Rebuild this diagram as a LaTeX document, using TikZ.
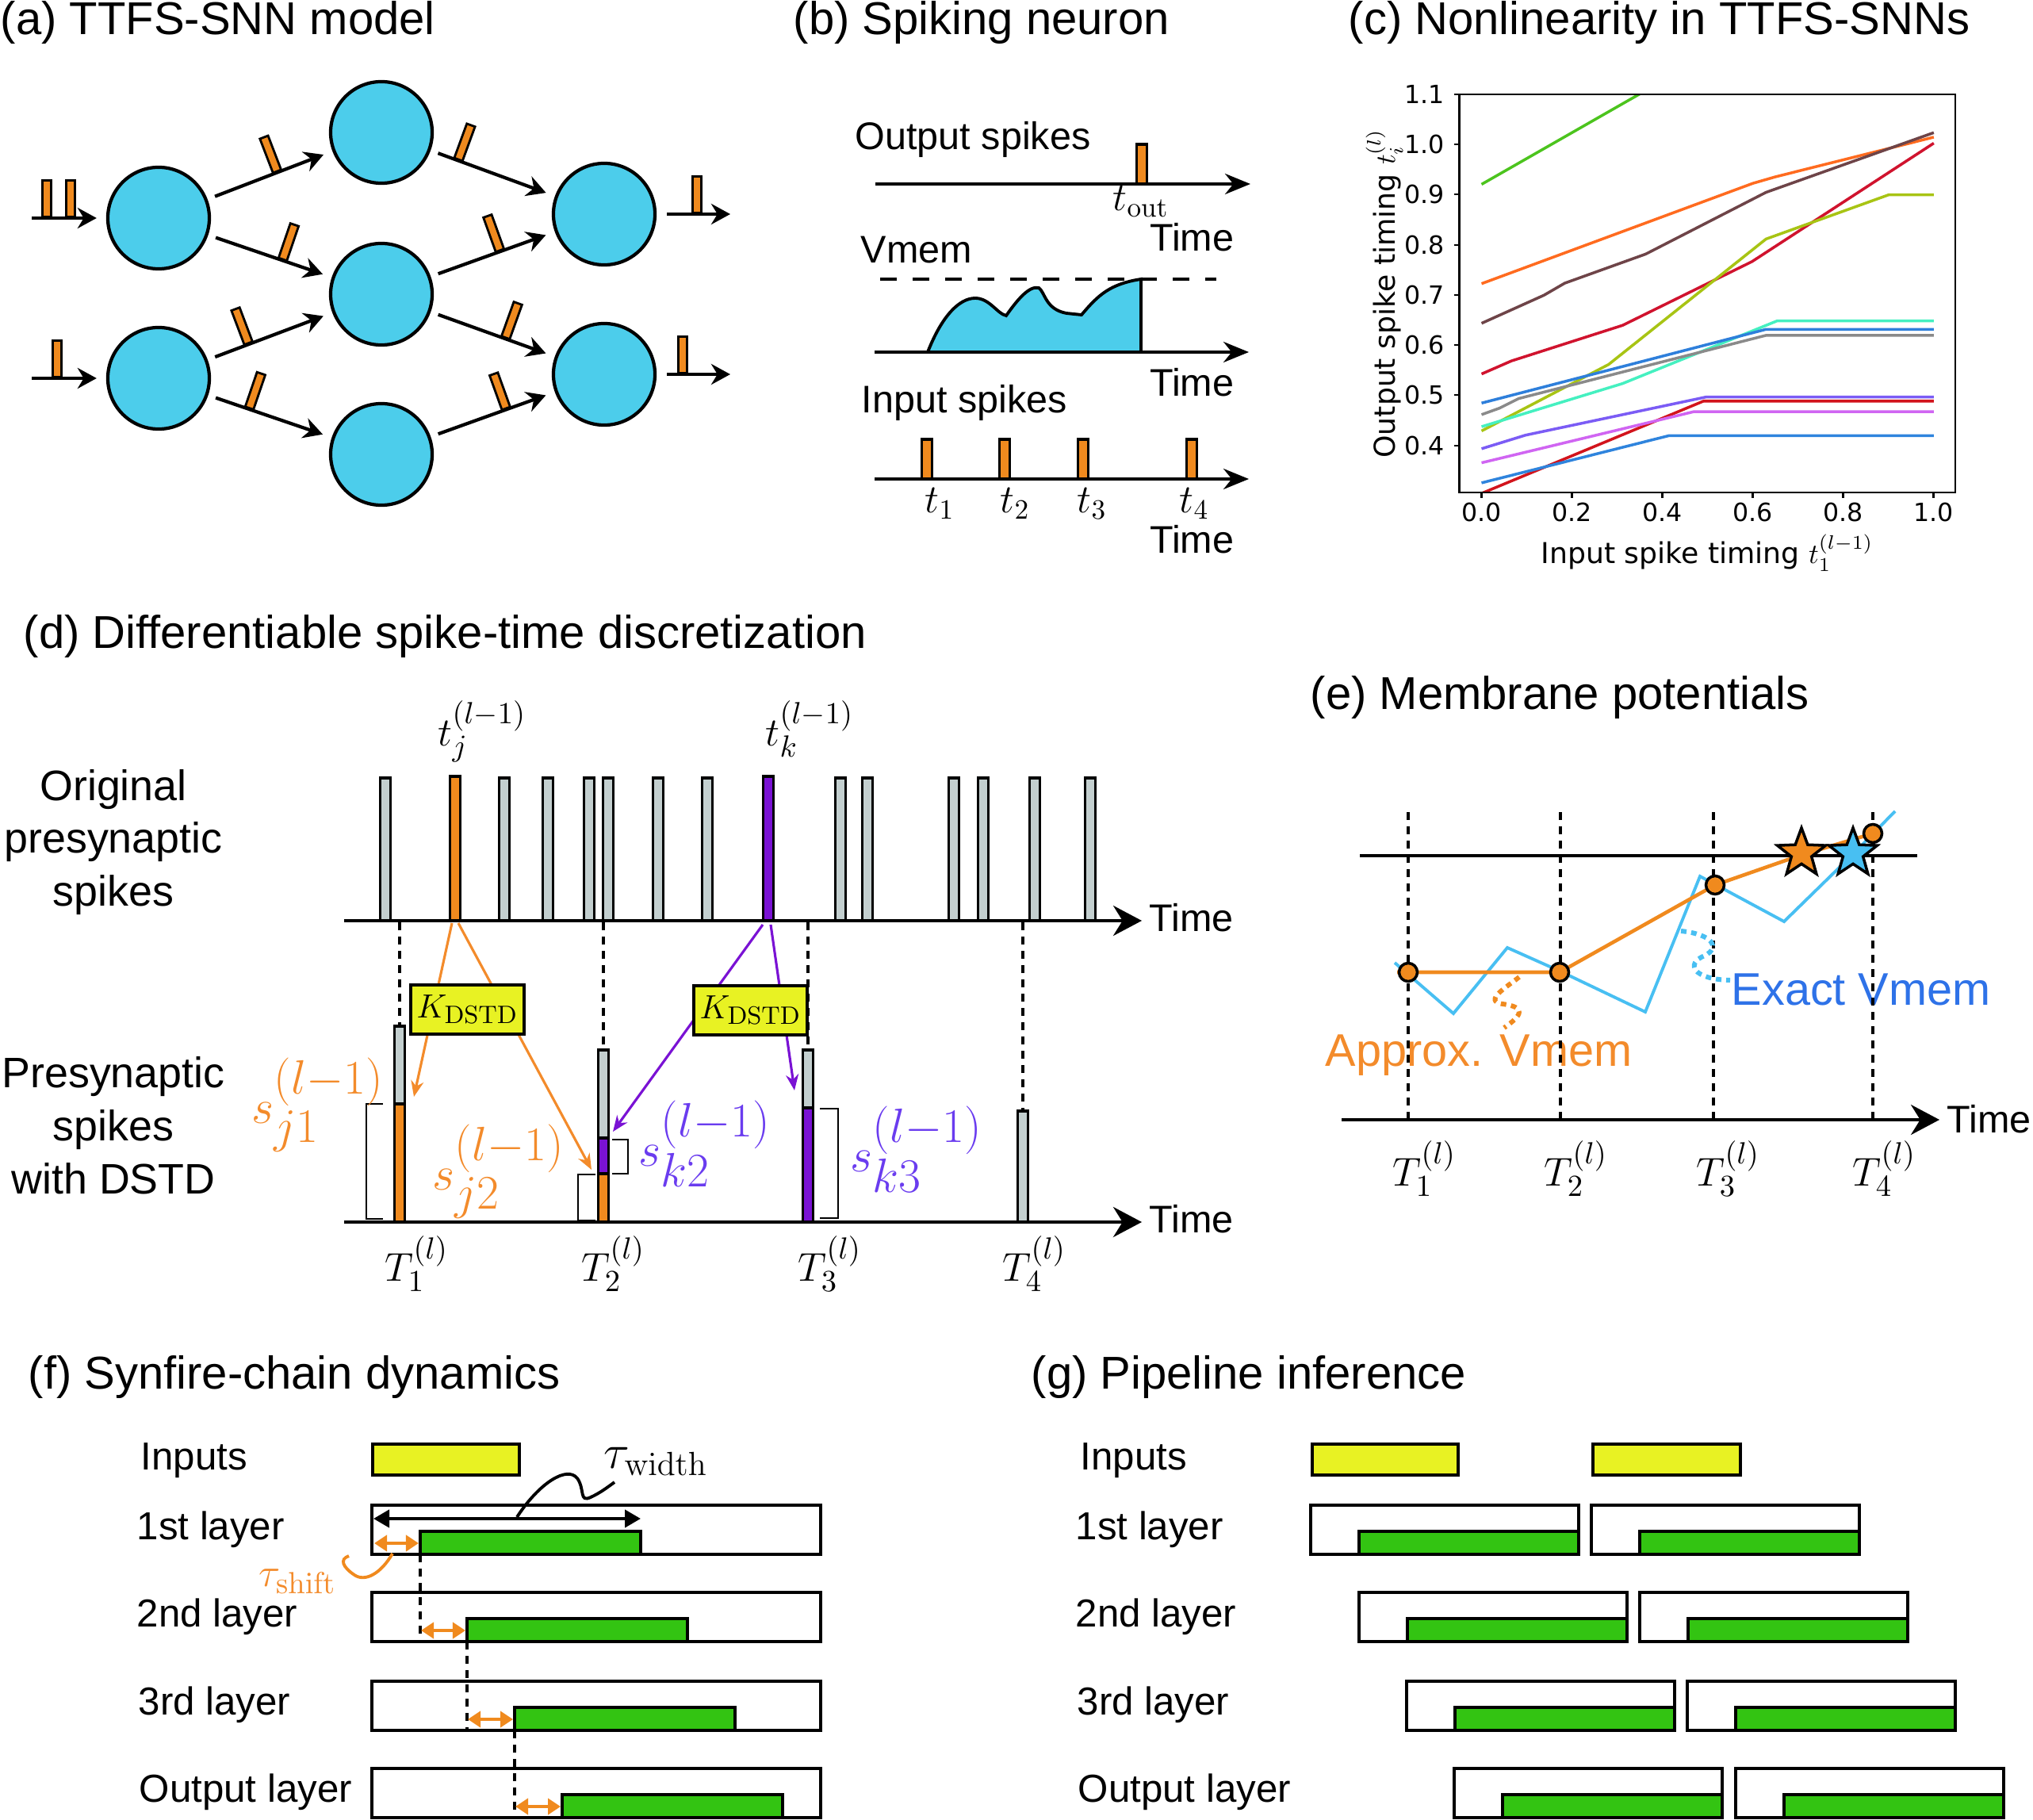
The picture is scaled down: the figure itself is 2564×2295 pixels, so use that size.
\documentclass[tikz,border=0pt]{standalone}
\usepackage[no-math]{fontspec}
\setmainfont{Liberation Sans}
\newfontfamily\plotfont{DejaVu Sans}
\usetikzlibrary{arrows.meta,positioning,shapes.geometric}
\DeclareMathSizes{17}{17}{16}{12}

\definecolor{cNeurona}{HTML}{4CCDEB}
\definecolor{cPico}{HTML}{F08A1E}
\definecolor{cGris}{HTML}{C3CFCF}
\definecolor{cMorado}{HTML}{7A12D4}
\definecolor{cAmarillo}{HTML}{E8F223}
\definecolor{cVerde}{HTML}{33C412}
\definecolor{cNaranja}{HTML}{F38B2B}
\definecolor{cVioleta}{HTML}{6A3CEF}
\definecolor{cCeleste}{HTML}{48BFF2}
\definecolor{cAzul}{HTML}{2E72E8}
\definecolor{pA}{HTML}{4CC41E}
\definecolor{pB}{HTML}{FF6B1F}
\definecolor{pC}{HTML}{6E4448}
\definecolor{pD}{HTML}{D0132E}
\definecolor{pE}{HTML}{A8C414}
\definecolor{pF}{HTML}{45F0C0}
\definecolor{pG}{HTML}{2E7FDB}
\definecolor{pH}{HTML}{8A8A8A}
\definecolor{pI}{HTML}{7B5CF5}
\definecolor{pJ}{HTML}{D2141C}
\definecolor{pK}{HTML}{D065F2}
\definecolor{pL}{HTML}{2F84DD}

\begin{document}
\begin{tikzpicture}[x=0.01cm, y=-0.01cm]
\tikzstyle{titulo}=[font=\fontsize{16.5}{19}\selectfont, anchor=base west, inner sep=0]
\tikzstyle{texto}=[font=\fontsize{13.8}{16}\selectfont, inner sep=0]
\tikzstyle{capa}=[font=\fontsize{14}{16}\selectfont, anchor=base west, inner sep=0]
\tikzstyle{neurona}=[circle, draw, line width=1.2pt, fill=cNeurona, minimum size=1.28cm, inner sep=0]
\tikzstyle{conexion}=[-{Stealth[length=0.24cm, width=0.26cm]}, line width=1.2pt, shorten <=0.1cm, shorten >=0.12cm]
\tikzstyle{pico}=[rectangle, draw, line width=0.8pt, fill=cPico, minimum width=0.11cm, minimum height=0.46cm, inner sep=0]
\tikzstyle{eje}=[-{Stealth[length=0.32cm, width=0.26cm]}, line width=1.1pt]
\tikzstyle{ejeD}=[-{Stealth[length=0.36cm, width=0.38cm]}, line width=1.1pt]
\tikzstyle{barra}=[draw=black, line width=0.9pt]
\tikzstyle{guia}=[dashed, line width=1.1pt, dash pattern=on 0.1cm off 0.08cm]
\tikzstyle{caja}=[draw=black, line width=1.2pt]
\tikzstyle{flechaN}=[-{Stealth[length=0.2cm, width=0.16cm]}, line width=0.9pt, color=cNaranja]
\tikzstyle{flechaM}=[-{Stealth[length=0.2cm, width=0.16cm]}, line width=0.9pt, color=cMorado]
\tikzstyle{kbox}=[rectangle, draw, line width=1.2pt, fill=cAmarillo, minimum width=1.43cm, minimum height=0.62cm, inner sep=0, font=\fontsize{13}{15}\selectfont]
\tikzstyle{punto}=[circle, draw, line width=1pt, fill=cPico, minimum size=0.23cm, inner sep=0]
\tikzstyle{estrella}=[star, star points=5, star point ratio=2.4, draw, line width=1pt, minimum size=0.64cm, inner sep=0]
\tikzstyle{cota}=[{Triangle[length=0.2cm, width=0.22cm]}-{Triangle[length=0.2cm, width=0.22cm]}, line width=1.2pt]
\tikzstyle{cotaN}=[{Triangle[length=0.16cm, width=0.2cm]}-{Triangle[length=0.16cm, width=0.2cm]}, line width=1.1pt, color=cPico]
\newcommand{\spk}[4]{\filldraw[barra, fill=#4] (#1-6.5,#2) rectangle (#1+6.5,#3);}
\newcommand{\bloque}[2]{\filldraw[caja, fill=white] (#1,#2) rectangle (#1+338,#2+62);
  \filldraw[caja, fill=cVerde] (#1+61,#2+33) rectangle (#1+338,#2+62);}

\useasboundingbox (0,0) rectangle (2564,2295);

%%%%%%%%%%%%%%%%%%%%%%%%%%%%%%
%%%%%%%%%%%%%%%%%%%%%%%%%%%%%%
%%%%%
%%%%% (a) RED TTFS-SNN
\node[titulo] (t_a) at (0,44) {(a) TTFS-SNN model};

%%%%% NEURONAS
\coordinate (n_1) at (200,275);
\coordinate (n_2) at (200,477);
\coordinate (n_3) at (481,167);
\coordinate (n_4) at (481,371);
\coordinate (n_5) at (481,573);
\coordinate (n_6) at (762,270);
\coordinate (n_7) at (762,472);

\node[neurona] (n_1) at (n_1) {};
\node[neurona] (n_2) at (n_2) {};
\node[neurona] (n_3) at (n_3) {};
\node[neurona] (n_4) at (n_4) {};
\node[neurona] (n_5) at (n_5) {};
\node[neurona] (n_6) at (n_6) {};
\node[neurona] (n_7) at (n_7) {};

%%%%% ENTRADA Y SALIDA
\coordinate (e_1) at (40,275);
\coordinate (e_2) at (40,477);
\coordinate (o_1) at (921,270);
\coordinate (o_2) at (921,472);

\draw[conexion, shorten <=0pt] (e_1) -- (n_1);
\draw[conexion, shorten <=0pt] (e_2) -- (n_2);
\draw[conexion, shorten <=0.13cm, shorten >=0pt] (n_6) -- (o_1);
\draw[conexion, shorten <=0.13cm, shorten >=0pt] (n_7) -- (o_2);
\node[pico, anchor=south] (p_9) at (59,275) {};
\node[pico, anchor=south] (p_10) at (89,275) {};
\node[pico, anchor=south] (p_11) at (72,477) {};
\node[pico, anchor=south] (p_12) at (879,270) {};
\node[pico, anchor=south] (p_13) at (861,472) {};

%%%%% CONEXIONES
\draw[conexion] (n_1) -- node[pico, sloped, anchor=south, pos=0.56] (p_1) {} (n_3);
\draw[conexion] (n_1) -- node[pico, sloped, anchor=south, pos=0.6] (p_2) {} (n_4);
\draw[conexion] (n_2) -- node[pico, sloped, anchor=south, pos=0.33] (p_3) {} (n_4);
\draw[conexion] (n_2) -- node[pico, sloped, anchor=south, pos=0.33] (p_4) {} (n_5);
\draw[conexion] (n_3) -- node[pico, sloped, anchor=south, pos=0.22] (p_5) {} (n_6);
\draw[conexion] (n_4) -- node[pico, sloped, anchor=south, pos=0.56] (p_6) {} (n_6);
\draw[conexion] (n_4) -- node[pico, sloped, anchor=south, pos=0.6] (p_7) {} (n_7);
\draw[conexion] (n_5) -- node[pico, sloped, anchor=south, pos=0.61] (p_8) {} (n_7);

%%%%%%%%%%%%%%%%%%%%%%%%%%%%%%
%%%%%
%%%%% (b) NEURONA
\node[titulo] (t_b) at (1000,44) {(b) Spiking neuron};

\coordinate (b_1) at (1104,232);
\coordinate (b_2) at (1577,232);
\coordinate (b_3) at (1103,444);
\coordinate (b_4) at (1575,444);
\coordinate (b_5) at (1103,604);
\coordinate (b_6) at (1575,604);

\node[texto, anchor=base west] (l_out) at (1078,189) {Output spikes};
\node[texto, anchor=base west] (l_vm) at (1085,332) {Vmem};
\node[texto, anchor=base west] (l_in) at (1086,521) {Input spikes};
\node[texto, anchor=base east] (l_t1) at (1557,317) {Time};
\node[texto, anchor=base east] (l_t2) at (1557,500) {Time};
\node[texto, anchor=base east] (l_t3) at (1557,698) {Time};

%%%%% SALIDA
\spk{1440}{182}{232}{cPico}
\draw[eje] (b_1) -- (b_2);
\node[texto, font=\fontsize{14}{16}\selectfont, anchor=base west] (l_tout) at (1403,266) {$t_{\mathrm{out}}$};

%%%%% POTENCIAL
\filldraw[fill=cNeurona, line width=1.1pt] (1170,444) .. controls (1188,398) and (1210,376) .. (1230,376)
  .. controls (1248,376) and (1258,396) .. (1269,398)
  .. controls (1283,378) and (1298,360) .. (1310,363)
  .. controls (1318,368) and (1318,390) .. (1345,395)
  -- (1364,397)
  .. controls (1385,372) and (1400,358) .. (1439,352)
  -- (1439,444) -- cycle;
\draw[dashed, line width=1pt, dash pattern=on 0.21cm off 0.2cm] (1110,352) -- (1534,352);
\draw[eje] (b_3) -- (b_4);

%%%%% ENTRADA
\spk{1169}{554}{604}{cPico}
\spk{1267}{554}{604}{cPico}
\spk{1366}{554}{604}{cPico}
\spk{1503}{554}{604}{cPico}
\draw[eje] (b_5) -- (b_6);
\node[texto, font=\fontsize{14}{16}\selectfont, anchor=base west] (l_i1) at (1166,647) {$t_1$};
\node[texto, font=\fontsize{14}{16}\selectfont, anchor=base west] (l_i2) at (1261,647) {$t_2$};
\node[texto, font=\fontsize{14}{16}\selectfont, anchor=base west] (l_i3) at (1358,647) {$t_3$};
\node[texto, font=\fontsize{14}{16}\selectfont, anchor=base west] (l_i4) at (1487,647) {$t_4$};

%%%%%%%%%%%%%%%%%%%%%%%%%%%%%%
%%%%%
%%%%% (c) NO LINEALIDAD
\node[titulo] (t_c) at (1700,44) {(c) Nonlinearity in TTFS-SNNs};

\begin{scope}[shift={(1868.5,814.5)}, x=5.7cm, y=6.323cm, line width=1pt]
\clip (-0.049,0.306) rectangle (1.048,1.1);
\draw[pA] (0,0.92) -- (0.4,1.126);
\draw[pB] (0,0.722) -- (0.6,0.922) -- (0.65,0.935) -- (1,1.014);
\draw[pC] (0,0.643) -- (0.138,0.699) -- (0.184,0.723) -- (0.363,0.781) -- (0.629,0.904) -- (1,1.023);
\draw[pD] (0,0.542) -- (0.066,0.568) -- (0.312,0.639) -- (0.598,0.766) -- (1,1.002);
\draw[pE] (0,0.4285) -- (0.281,0.561) -- (0.629,0.811) -- (0.9,0.899) -- (1,0.899);
\draw[pF] (0,0.437) -- (0.312,0.523) -- (0.654,0.648) -- (1,0.648);
\draw[pG] (0,0.484) -- (0.629,0.631) -- (1,0.631);
\draw[pH] (0,0.461) -- (0.04,0.474) -- (0.082,0.493) -- (0.629,0.619) -- (1,0.619);
\draw[pI] (0,0.393) -- (0.097,0.42) -- (0.496,0.496) -- (1,0.496);
\draw[pJ] (0,0.304) -- (0.491,0.488) -- (1,0.488);
\draw[pK] (0,0.365) -- (0.47,0.467) -- (1,0.467);
\draw[pL] (0,0.325) -- (0.414,0.419) -- (1,0.419);
\end{scope}
\draw[line width=0.6pt] (1840.5,119) rectangle (2466,621);

%%%%% MARCAS
\foreach \v/\n in {0.0/0,0.2/1,0.4/2,0.6/3,0.8/4,1.0/5} {
  \draw[line width=0.6pt] (1868.5+570*\v,621) -- (1868.5+570*\v,628)
    node[below, inner sep=1.5pt, font=\plotfont\fontsize{9}{10}\selectfont] (cx_\n) {\v};
}
\foreach \v/\n in {0.4/0,0.5/1,0.6/2,0.7/3,0.8/4,0.9/5,1.0/6,1.1/7} {
  \draw[line width=0.6pt] (1840.5,814.5-632.3*\v) -- (1833.5,814.5-632.3*\v)
    node[left, inner sep=3pt, font=\plotfont\fontsize{9}{10}\selectfont] (cy_\n) {\v};
}
\node[font=\plotfont\fontsize{10.3}{12}\selectfont, rotate=90] (c_y) at (1746,370) {Output spike timing $t_i^{(l)}$};
\node[font=\plotfont\fontsize{10.3}{12}\selectfont] (c_x) at (2153,697) {Input spike timing $t_1^{(l-1)}$};

%%%%%%%%%%%%%%%%%%%%%%%%%%%%%%
%%%%%
%%%%% (d) DISCRETIZACION
\node[titulo] (t_d) at (29,818) {(d) Differentiable spike-time discretization};

\node[font=\fontsize{15.3}{19}\selectfont, align=center] (d_1) at (143,1062) {Original\\presynaptic\\spikes};
\node[font=\fontsize{15.3}{19}\selectfont, align=center] (d_2) at (143,1419) {Presynaptic\\spikes\\with DSTD};

%%%%% PULSOS ORIGINALES
\spk{486}{981}{1161}{cGris}
\spk{574}{979}{1161}{cPico}
\spk{636}{981}{1161}{cGris}
\spk{691}{981}{1161}{cGris}
\spk{743}{981}{1161}{cGris}
\spk{767}{981}{1161}{cGris}
\spk{830}{981}{1161}{cGris}
\spk{892}{981}{1161}{cGris}
\spk{969}{979}{1161}{cMorado}
\spk{1060}{981}{1161}{cGris}
\spk{1094}{981}{1161}{cGris}
\spk{1203}{981}{1161}{cGris}
\spk{1240}{981}{1161}{cGris}
\spk{1305}{981}{1161}{cGris}
\spk{1375}{981}{1161}{cGris}

\coordinate (d_a) at (434,1161);
\coordinate (d_b) at (1440,1161);
\coordinate (d_c) at (434,1541);
\coordinate (d_e) at (1440,1541);
\draw[ejeD] (d_a) -- (d_b);
\node[texto, anchor=base west] (d_t1) at (1449,1174) {Time};
\node[texto, anchor=base west] (d_t2) at (1449,1554) {Time};

\node[font=\fontsize{15}{18}\selectfont, anchor=base west, inner sep=0] (d_tj) at (552,940) {$t_j^{(l-1)}$};
\node[font=\fontsize{15}{18}\selectfont, anchor=base west, inner sep=0] (d_tk) at (965,940) {$t_k^{(l-1)}$};

%%%%% GUIAS
\draw[guia] (504,1163) -- (504,1294);
\draw[guia] (761,1163) -- (761,1324);
\draw[guia] (1019,1163) -- (1019,1324);
\draw[guia] (1290,1163) -- (1290,1401);

%%%%% PULSOS DSTD
\spk{504}{1294}{1392}{cGris}
\spk{504}{1392}{1541}{cPico}
\spk{761}{1324}{1435}{cGris}
\spk{761}{1435}{1480}{cMorado}
\spk{761}{1480}{1541}{cPico}
\spk{1019}{1324}{1397}{cGris}
\spk{1019}{1397}{1541}{cMorado}
\spk{1290}{1401}{1541}{cGris}
\draw[ejeD] (d_c) -- (d_e);

\draw[line width=0.7pt] (483,1392) -- (462,1392) -- (462,1537) -- (483,1537);
\draw[line width=0.7pt] (751,1481) -- (729,1481) -- (729,1539) -- (751,1539);
\draw[line width=0.7pt] (772,1437) -- (792,1437) -- (792,1480) -- (772,1480);
\draw[line width=0.7pt] (1034,1398) -- (1057,1398) -- (1057,1536) -- (1034,1536);

%%%%% NUCLEO DSTD
\coordinate (j_0) at (570,1164);
\coordinate (j_1) at (522,1383);
\coordinate (j_5) at (578,1164);
\coordinate (j_2) at (746,1475);
\coordinate (k_0) at (962,1166);
\coordinate (k_2) at (773,1427);
\coordinate (k_5) at (972,1166);
\coordinate (k_3) at (1002,1375);
\draw[flechaN] (j_0) -- (j_1);
\draw[flechaN] (j_5) -- (j_2);
\draw[flechaM] (k_0) -- (k_2);
\draw[flechaM] (k_5) -- (k_3);
\node[kbox] (k_a) at (589.5,1273) {$K_{\mathrm{DSTD}}$};
\node[kbox] (k_b) at (946.5,1274) {$K_{\mathrm{DSTD}}$};

\node[font=\fontsize{17}{20}\selectfont, anchor=base west, inner sep=0, text=cNaranja] (s_j1) at (317,1416) {$s_{j1}^{(l-1)}$};
\node[font=\fontsize{17}{20}\selectfont, anchor=base west, inner sep=0, text=cNaranja] (s_j2) at (545,1500) {$s_{j2}^{(l-1)}$};
\node[font=\fontsize{17}{20}\selectfont, anchor=base west, inner sep=0, text=cVioleta] (s_k2) at (805,1470) {$s_{k2}^{(l-1)}$};
\node[font=\fontsize{17}{20}\selectfont, anchor=base west, inner sep=0, text=cVioleta] (s_k3) at (1072,1477) {$s_{k3}^{(l-1)}$};

\node[font=\fontsize{15}{18}\selectfont, anchor=base west, inner sep=0] (T_1) at (485,1615) {$T_1^{(l)}$};
\node[font=\fontsize{15}{18}\selectfont, anchor=base west, inner sep=0] (T_2) at (733,1615) {$T_2^{(l)}$};
\node[font=\fontsize{15}{18}\selectfont, anchor=base west, inner sep=0] (T_3) at (1006,1615) {$T_3^{(l)}$};
\node[font=\fontsize{15}{18}\selectfont, anchor=base west, inner sep=0] (T_4) at (1264,1615) {$T_4^{(l)}$};

%%%%%%%%%%%%%%%%%%%%%%%%%%%%%%
%%%%%
%%%%% (e) POTENCIALES
\node[titulo] (t_e) at (1652,895) {(e) Membrane potentials};

\node[font=\fontsize{16.4}{19}\selectfont, anchor=base west, inner sep=0, text=cNaranja] (e_ap) at (1671,1344) {Approx. Vmem};
\node[font=\fontsize{16.4}{19}\selectfont, anchor=base west, inner sep=0, text=cAzul] (e_ex) at (2183,1267) {Exact Vmem};

\coordinate (e_a) at (1692,1412);
\coordinate (e_b) at (2446,1412);
\draw[line width=1.2pt] (1715,1079) -- (2418,1079);
\draw[ejeD] (e_a) -- (e_b);
\node[texto, anchor=base west] (e_t) at (2455,1428) {Time};

\draw[guia] (1776,1024) -- (1776,1412);
\draw[guia] (1968,1024) -- (1968,1412);
\draw[guia] (2161,1024) -- (2161,1412);
\draw[guia] (2362,1024) -- (2362,1412);

\draw[cCeleste, line width=1.1pt] (1759,1214) -- (1833,1278) -- (1901,1195) -- (1966,1224) -- (2075,1276) -- (2144,1105) -- (2250,1162) -- (2336,1078) -- (2390,1023);
\draw[cPico, line width=1.3pt] (1762,1226) -- (1967,1226) -- (2163,1116) -- (2272,1078) -- (2362,1051);

\draw[cPico, line width=1.7pt, dash pattern=on 0.07cm off 0.06cm] (1916,1232) .. controls (1900,1245) and (1870,1262) .. (1895,1266) .. controls (1925,1270) and (1920,1280) .. (1897,1296);
\draw[cCeleste, line width=1.7pt, dash pattern=on 0.07cm off 0.06cm] (2120,1174) .. controls (2160,1178) and (2170,1195) .. (2150,1205) .. controls (2125,1215) and (2135,1235) .. (2182,1236);

\node[punto] (d_1) at (1776,1226) {};
\node[punto] (d_2) at (1967,1226) {};
\node[punto] (d_3) at (2163,1116) {};
\node[punto] (d_4) at (2362,1051) {};
\node[estrella, fill=cPico] (st_1) at (2272,1076) {};
\node[estrella, fill=cCeleste] (st_2) at (2337,1076) {};

\node[font=\fontsize{15}{18}\selectfont, anchor=base west, inner sep=0] (E_1) at (1756,1495) {$T_1^{(l)}$};
\node[font=\fontsize{15}{18}\selectfont, anchor=base west, inner sep=0] (E_2) at (1947,1495) {$T_2^{(l)}$};
\node[font=\fontsize{15}{18}\selectfont, anchor=base west, inner sep=0] (E_3) at (2139,1495) {$T_3^{(l)}$};
\node[font=\fontsize{15}{18}\selectfont, anchor=base west, inner sep=0] (E_4) at (2336,1495) {$T_4^{(l)}$};

%%%%%%%%%%%%%%%%%%%%%%%%%%%%%%
%%%%%
%%%%% (f) CADENA SYNFIRE
\node[titulo] (t_f) at (35,1751) {(f) Synfire-chain dynamics};

\node[capa] (f_0) at (177,1853) {Inputs};
\node[capa] (f_1) at (172,1941) {1st layer};
\node[capa] (f_2) at (172,2051) {2nd layer};
\node[capa] (f_3) at (174,2162) {3rd layer};
\node[capa] (f_4) at (175,2272) {Output layer};

\filldraw[caja, fill=cAmarillo] (470,1821) rectangle (655,1860);
\draw[caja] (469,1898) rectangle (1035,1960);
\filldraw[caja, fill=cVerde] (530,1931) rectangle (808,1960);
\draw[caja] (469,2008) rectangle (1035,2070);
\filldraw[caja, fill=cVerde] (589,2041) rectangle (867,2070);
\draw[caja] (469,2120) rectangle (1035,2182);
\filldraw[caja, fill=cVerde] (649,2153) rectangle (927,2182);
\draw[caja] (469,2230) rectangle (1035,2292);
\filldraw[caja, fill=cVerde] (709,2263) rectangle (987,2292);

\draw[guia, line width=0.9pt] (530,1960) -- (530,2070);
\draw[guia, line width=0.9pt] (589,2070) -- (589,2182);
\draw[guia, line width=0.9pt] (649,2182) -- (649,2292);

\draw[cota] (471,1915) -- (808,1915);
\draw[cotaN] (472,1946) -- (528,1946);
\draw[cotaN] (531,2056) -- (587,2056);
\draw[cotaN] (590,2168) -- (647,2168);
\draw[cotaN] (650,2278) -- (707,2278);

\node[font=\fontsize{16.5}{19}\selectfont, anchor=base west, inner sep=0] (f_w) at (761,1851) {$\tau_{\mathrm{width}}$};
\draw[line width=1.1pt] (652,1913) .. controls (680,1870) and (715,1848) .. (728,1864) .. controls (738,1878) and (730,1895) .. (745,1888) .. controls (758,1882) and (768,1874) .. (775,1869);
\node[font=\fontsize{15}{18}\selectfont, anchor=base west, inner sep=0, text=cNaranja] (f_s) at (326,2000) {$\tau_{\mathrm{shift}}$};
\draw[cPico, line width=1.1pt] (495,1959) .. controls (480,1985) and (460,1995) .. (447,1986) .. controls (432,1976) and (428,1966) .. (440,1962);

%%%%%%%%%%%%%%%%%%%%%%%%%%%%%%
%%%%%
%%%%% (g) PIPELINE
\node[titulo] (t_g) at (1300,1751) {(g) Pipeline inference};

\node[capa] (g_0) at (1362,1853) {Inputs};
\node[capa] (g_1) at (1356,1941) {1st layer};
\node[capa] (g_2) at (1356,2051) {2nd layer};
\node[capa] (g_3) at (1358,2162) {3rd layer};
\node[capa] (g_4) at (1359,2272) {Output layer};

\filldraw[caja, fill=cAmarillo] (1655,1821) rectangle (1839,1860);
\filldraw[caja, fill=cAmarillo] (2009,1821) rectangle (2195,1860);
\bloque{1653}{1898}
\bloque{2007}{1898}
\bloque{1714}{2008}
\bloque{2068}{2008}
\bloque{1774}{2120}
\bloque{2128}{2120}
\bloque{1834}{2230}
\bloque{2189}{2230}

\end{tikzpicture}
\end{document}
